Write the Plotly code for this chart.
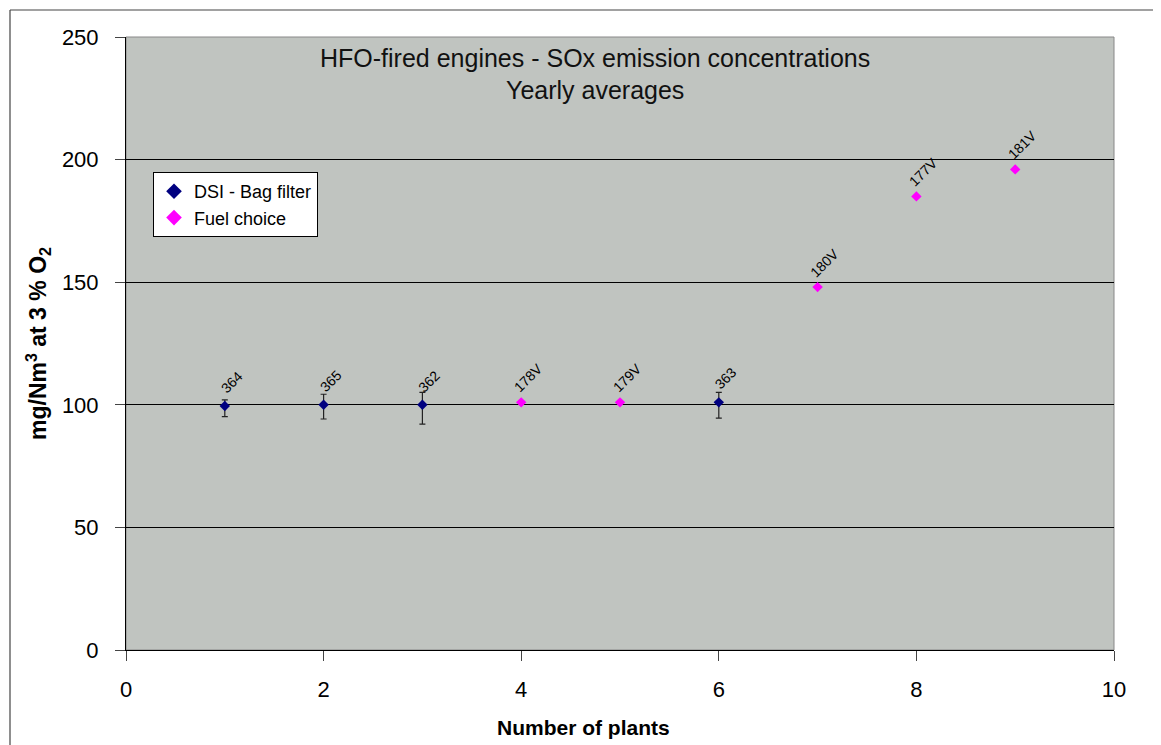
import plotly.graph_objects as go

# DSI - Bag filter series
dsi_x = [1, 2, 3, 6]
dsi_y = [99.5, 100, 100, 101]
dsi_upper = [102, 104.3, 105.1, 105.1]
dsi_lower = [95.2, 94.2, 92.1, 94.6]
dsi_labels = ["364", "365", "362", "363"]

# Fuel choice series
fuel_x = [4, 5, 7, 8, 9]
fuel_y = [101, 101, 148, 185, 196]
fuel_labels = ["178V", "179V", "180V", "177V", "181V"]

x_ticks = [0, 2, 4, 6, 8, 10]
y_ticks = [0, 50, 100, 150, 200, 250]

FONT = "Liberation Sans, Arial, sans-serif"

# page body has an 8px margin, so the figure is offset by 8px
W, H = 1153, 737
L, R, T, B = 118, 47, 29, 95
PW, PH = W - L - R, H - T - B  # 988 x 613

fig = go.Figure()
fig.add_trace(go.Scatter(
    x=dsi_x, y=dsi_y, mode="markers", name="DSI - Bag filter",
    marker=dict(symbol="diamond", size=8, color="#000080"),
    error_y=dict(type="data", symmetric=False,
                 array=[u - v for u, v in zip(dsi_upper, dsi_y)],
                 arrayminus=[v - l for v, l in zip(dsi_y, dsi_lower)],
                 color="#222222", thickness=1.2, width=3),
))
fig.add_trace(go.Scatter(
    x=fuel_x, y=fuel_y, mode="markers", name="Fuel choice",
    marker=dict(symbol="diamond", size=8, color="#FF00FF"),
))

for xs, ys, labs in [(dsi_x, dsi_y, dsi_labels), (fuel_x, fuel_y, fuel_labels)]:
    for x, y, t in zip(xs, ys, labs):
        fig.add_annotation(x=x, y=y, text=t, showarrow=False, textangle=-45,
                           xshift=7, yshift=24,
                           font=dict(family=FONT, size=14, color="black"))

fig.add_annotation(xref="paper", yref="paper", x=0.475, y=1 - 21 / PH, yanchor="middle",
                   text="HFO-fired engines - SOx emission concentrations",
                   showarrow=False, font=dict(family=FONT, size=25, color="#111"))
fig.add_annotation(xref="paper", yref="paper", x=0.475, y=1 - 53 / PH, yanchor="middle",
                   text="Yearly averages",
                   showarrow=False, font=dict(family=FONT, size=25, color="#111"))
# x-axis title (placed slightly left of centre as in the reference)
fig.add_annotation(xref="paper", yref="paper", x=(583 - 126) / PW, y=-(727 - 650) / PH,
                   yanchor="middle", text="<b>Number of plants</b>", showarrow=False,
                   font=dict(family=FONT, size=21, color="black"))

# outer frame lines (top and left)
fx = (10 - 126) / PW
fy = 1 + 27 / PH
fig.add_shape(type="line", xref="paper", yref="paper",
              x0=fx, x1=(1170 - 126) / PW, y0=fy, y1=fy,
              line=dict(color="#444", width=1.2))
fig.add_shape(type="line", xref="paper", yref="paper",
              x0=fx, x1=fx, y0=fy, y1=-B / PH,
              line=dict(color="#444", width=1.2))
# plot area border
fig.add_shape(type="rect", xref="paper", yref="paper", x0=0, x1=1, y0=0, y1=1,
              line=dict(color="#888", width=1), layer="below")

fig.update_layout(
    width=W, height=H,
    margin=dict(l=L, r=R, t=T, b=B),
    paper_bgcolor="white", plot_bgcolor="#C0C4C0",
    font=dict(family=FONT, color="black"),
    showlegend=True,
    legend=dict(x=(153 - 126) / PW, y=1 - (172 - 37) / PH, xanchor="left", yanchor="top",
                bgcolor="white", bordercolor="black", borderwidth=1,
                font=dict(family=FONT, size=18), itemsizing="constant",
                tracegroupgap=0),
    xaxis=dict(range=[0, 10], tickvals=x_ticks, ticks="outside", ticklen=10,
               ticklabelstandoff=10,
               showline=True, linecolor="black", linewidth=1, showgrid=False,
               zeroline=False, tickfont=dict(size=22)),
    yaxis=dict(range=[0, 250], tickvals=y_ticks, ticks="outside", ticklen=10,
               ticklabelstandoff=12,
               showline=True, linecolor="black", linewidth=1,
               showgrid=True, gridcolor="black", gridwidth=1,
               zeroline=False, tickfont=dict(size=22),
               title=dict(text="<b>mg/Nm<sup>3</sup> at 3 % O<sub>2</sub></b>",
                          font=dict(size=23), standoff=8)),
)

fig.write_html("out.html")
